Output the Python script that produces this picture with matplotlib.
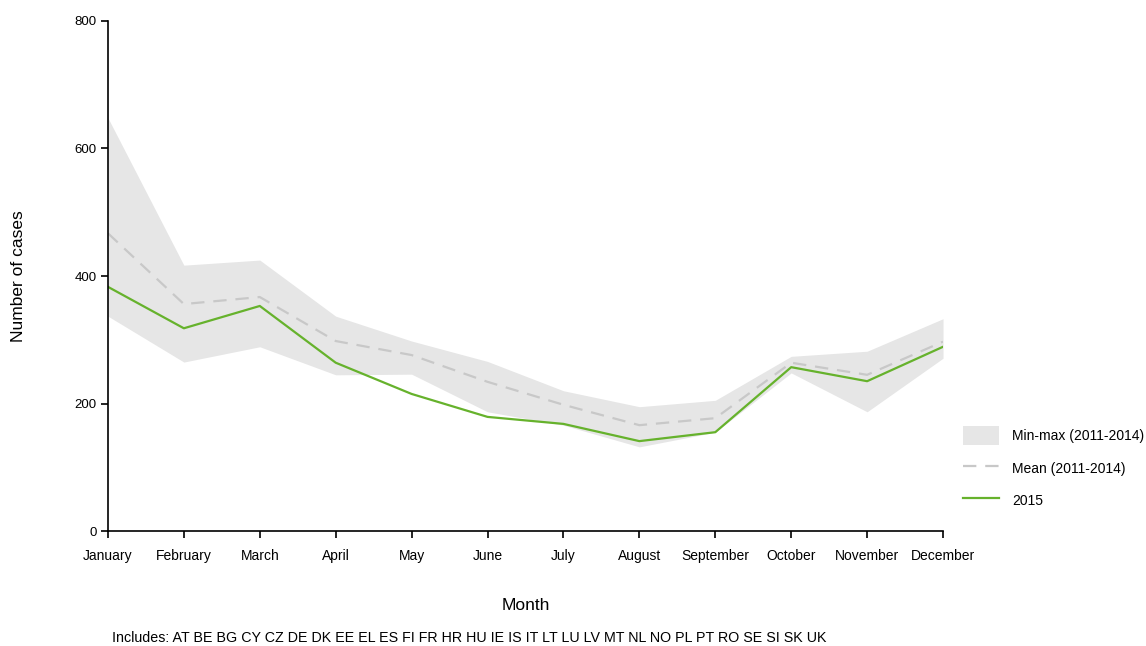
import numpy as np
import matplotlib
matplotlib.use("Agg")
import matplotlib.pyplot as plt
from matplotlib.patches import Patch
from matplotlib.lines import Line2D

plt.rcParams['font.family'] = ['Liberation Sans', 'DejaVu Sans']

months = ['January', 'February', 'March', 'April', 'May', 'June', 'July',
          'August', 'September', 'October', 'November', 'December']
cases_2015 = [383, 318, 353, 264, 215, 179, 168, 141, 155, 257, 235, 289]
mean_11_14 = [467, 356, 367, 298, 276, 234, 198, 166, 177, 264, 245, 297]
max_11_14 = [648, 417, 425, 337, 298, 266, 220, 195, 205, 274, 282, 333]
min_11_14 = [337, 265, 289, 245, 246, 187, 166, 132, 155, 248, 187, 271]
countries = ['AT', 'BE', 'BG', 'CY', 'CZ', 'DE', 'DK', 'EE', 'EL', 'ES', 'FI', 'FR',
             'HR', 'HU', 'IE', 'IS', 'IT', 'LT', 'LU', 'LV', 'MT', 'NL', 'NO', 'PL',
             'PT', 'RO', 'SE', 'SI', 'SK', 'UK']

green = '#66b22c'
grey_line = '#c8c8c8'
grey_band = '#e6e6e6'

fig = plt.figure(figsize=(11.46, 6.46), dpi=100)
ax = fig.add_axes([0.0942, 0.178, 0.7287, 0.7895])

x = np.arange(len(months))
ax.fill_between(x, min_11_14, max_11_14, color=grey_band, linewidth=0)
ax.plot(x, mean_11_14, color=grey_line, lw=1.6, dashes=(6, 4))
ax.plot(x, cases_2015, color=green, lw=1.6)

ax.set_xlim(0, 11)
ax.set_ylim(0, 800)
ax.set_yticks([0, 200, 400, 600, 800])
ax.set_xticks(x)
ax.set_xticklabels(months)
for s in ['top', 'right']:
    ax.spines[s].set_visible(False)
for s in ['left', 'bottom']:
    ax.spines[s].set_linewidth(1.2)
ax.tick_params(axis='both', direction='out', length=5, width=1.2, labelsize=9.5, pad=3)
ax.tick_params(axis='x', labelsize=10, pad=8)

ax.set_ylabel('Number of cases', fontsize=12.5, labelpad=35)
ax.set_xlabel('Month', fontsize=12.5, labelpad=25)

fig.text(112 / 1146, 1 - 638 / 646, 'Includes: ' + ' '.join(countries),
         fontsize=10.3, va='center', ha='left')

handles = [Patch(facecolor=grey_band, edgecolor='none'),
           Line2D([], [], color=grey_line, lw=1.6, dashes=(6, 4)),
           Line2D([], [], color=green, lw=1.6)]
labels = ['Min-max (2011-2014)', 'Mean (2011-2014)', '2015']
fig.legend(handles, labels, loc='center left', bbox_to_anchor=(950 / 1146, 1 - 468 / 646),
           frameon=False, fontsize=10, handlelength=2.6, handleheight=1.7,
           labelspacing=1.0, handletextpad=1.0)

fig.savefig('out.png', dpi=100)
